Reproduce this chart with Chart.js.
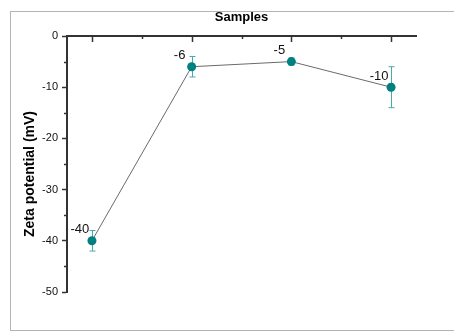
<!DOCTYPE html>
<html>
<head>
<meta charset="utf-8">
<script src="https://cdn.jsdelivr.net/npm/chart.js@4"></script>
<style>
html,body{margin:0;padding:0;background:#fff;overflow:hidden;}
#wrap{position:relative;width:454px;height:332px;overflow:hidden;}
canvas{display:block;}
/* grey frame of the exported figure, open on the right */
#frame{position:absolute;left:10px;top:11px;width:460px;height:318px;
  border:1.5px solid #b4b4b4;border-right:none;pointer-events:none;}
</style>
</head>
<body>
<div id="wrap">
<canvas id="myChart" width="454" height="332"></canvas>
<div id="frame"></div>
</div>
<script>
// sample numbers along the (unlabelled) top axis
const samples = [1, 2, 3, 4];
// zeta potential, mV
const zeta = [-40, -6, -5, -10];
const zetaErr = [2, 2, 0.7, 4];
const pointLabels = ['-40', '-6', '-5', '-10'];
const yMin = -50, yMax = 0;
const yTitle = 'Zeta potential (mV)';

const teal = '#008080';

// inward ticks on the top axis, minor ticks on the left axis
const tickPlugin = {
    id: 'ticks',
    afterDraw(chart){
        const ctx = chart.ctx;
        const xs = chart.scales.x, ys = chart.scales.y;
        const top = chart.chartArea.top, left = chart.chartArea.left;
        ctx.save();
        ctx.strokeStyle = '#333';
        ctx.lineWidth = 1.5;
        for(let v = 1; v <= xs.max; v += 0.5){
            const px = Math.round(xs.getPixelForValue(v)) + 0.5;
            const len = Number.isInteger(v) ? 6 : 3;
            ctx.beginPath();
            ctx.moveTo(px, top);
            ctx.lineTo(px, top + len);
            ctx.stroke();
        }
        for(let v = yMax - 5; v > yMin; v -= 10){
            const py = Math.round(ys.getPixelForValue(v)) + 0.5;
            ctx.beginPath();
            ctx.moveTo(left - 3, py);
            ctx.lineTo(left, py);
            ctx.stroke();
        }
        ctx.restore();
    }
};

// y title sits a bit below the axis middle in the original export
const yTitlePlugin = {
    id: 'yTitle',
    afterDraw(chart){
        const ctx = chart.ctx;
        const area = chart.chartArea;
        ctx.save();
        ctx.translate(30, (area.top + area.bottom) / 2 + 10);
        ctx.rotate(-Math.PI / 2);
        ctx.font = 'bold 14px "Liberation Sans", Arial, sans-serif';
        ctx.fillStyle = '#000';
        ctx.textAlign = 'center';
        ctx.textBaseline = 'middle';
        ctx.fillText(yTitle, 0, 0);
        ctx.restore();
    }
};

const errorBarPlugin = {
    id: 'errorBars',
    beforeDatasetsDraw(chart){
        const ctx = chart.ctx;
        const xs = chart.scales.x, ys = chart.scales.y;
        ctx.save();
        ctx.strokeStyle = '#4aa9a9';
        ctx.lineWidth = 1;
        zeta.forEach((v, i) => {
            const x = Math.round(xs.getPixelForValue(samples[i])) + 0.5;
            const y1 = ys.getPixelForValue(v + zetaErr[i]);
            const y2 = ys.getPixelForValue(v - zetaErr[i]);
            ctx.beginPath();
            ctx.moveTo(x, y1); ctx.lineTo(x, y2);
            ctx.moveTo(x - 3, y1); ctx.lineTo(x + 3, y1);
            ctx.moveTo(x - 3, y2); ctx.lineTo(x + 3, y2);
            ctx.stroke();
        });
        ctx.restore();
    }
};

const labelPlugin = {
    id: 'pointLabels',
    afterDatasetsDraw(chart){
        const ctx = chart.ctx;
        const meta = chart.getDatasetMeta(0);
        ctx.save();
        ctx.font = '13px "Liberation Sans", Arial, sans-serif';
        ctx.fillStyle = '#111';
        ctx.textAlign = 'center';
        ctx.textBaseline = 'middle';
        meta.data.forEach((el, i) => {
            ctx.fillText(pointLabels[i], el.x - 12, el.y - 11);
        });
        ctx.restore();
    }
};

const ctx = document.getElementById('myChart').getContext('2d');
new Chart(ctx, {
    type: 'line',
    data: {
        datasets: [{
            data: samples.map((s, i) => ({x: s, y: zeta[i]})),
            borderColor: '#6a6a6a',
            borderWidth: 1,
            pointRadius: 4.5,
            pointBackgroundColor: teal,
            pointBorderColor: teal,
            pointBorderWidth: 0,
            fill: false,
            tension: 0,
        }]
    },
    options: {
        responsive: false,
        animation: false,
        devicePixelRatio: 1,
        layout: {padding: {left: 0, right: 38, top: 0, bottom: 40}},
        plugins: {
            legend: {display: false},
            tooltip: {enabled: false},
        },
        scales: {
            x: {
                type: 'linear',
                position: 'top',
                min: 0.75,
                max: 4.25,
                grid: {display: false},
                ticks: {display: false},
                border: {display: true, color: '#333', width: 2},
                title: {
                    display: true,
                    text: 'Samples',
                    color: '#000',
                    font: {family: '"Liberation Sans", Arial, sans-serif', size: 13, weight: 'bold'},
                    padding: {top: 10, bottom: 0},
                },
                afterFit(scale){ scale.height = 36; },
            },
            y: {
                min: yMin,
                max: yMax,
                ticks: {
                    stepSize: 10,
                    color: '#111',
                    padding: 4,
                    font: {family: '"Liberation Sans", Arial, sans-serif', size: 11},
                },
                grid: {
                    drawOnChartArea: false,
                    tickLength: 5,
                    tickColor: '#333',
                    tickWidth: 1.5,
                },
                border: {display: true, color: '#333', width: 2},
                title: {display: false},
                afterFit(scale){ scale.width = 67; },
            }
        }
    },
    plugins: [errorBarPlugin, labelPlugin, tickPlugin, yTitlePlugin],
});
</script>
</body>
</html>
